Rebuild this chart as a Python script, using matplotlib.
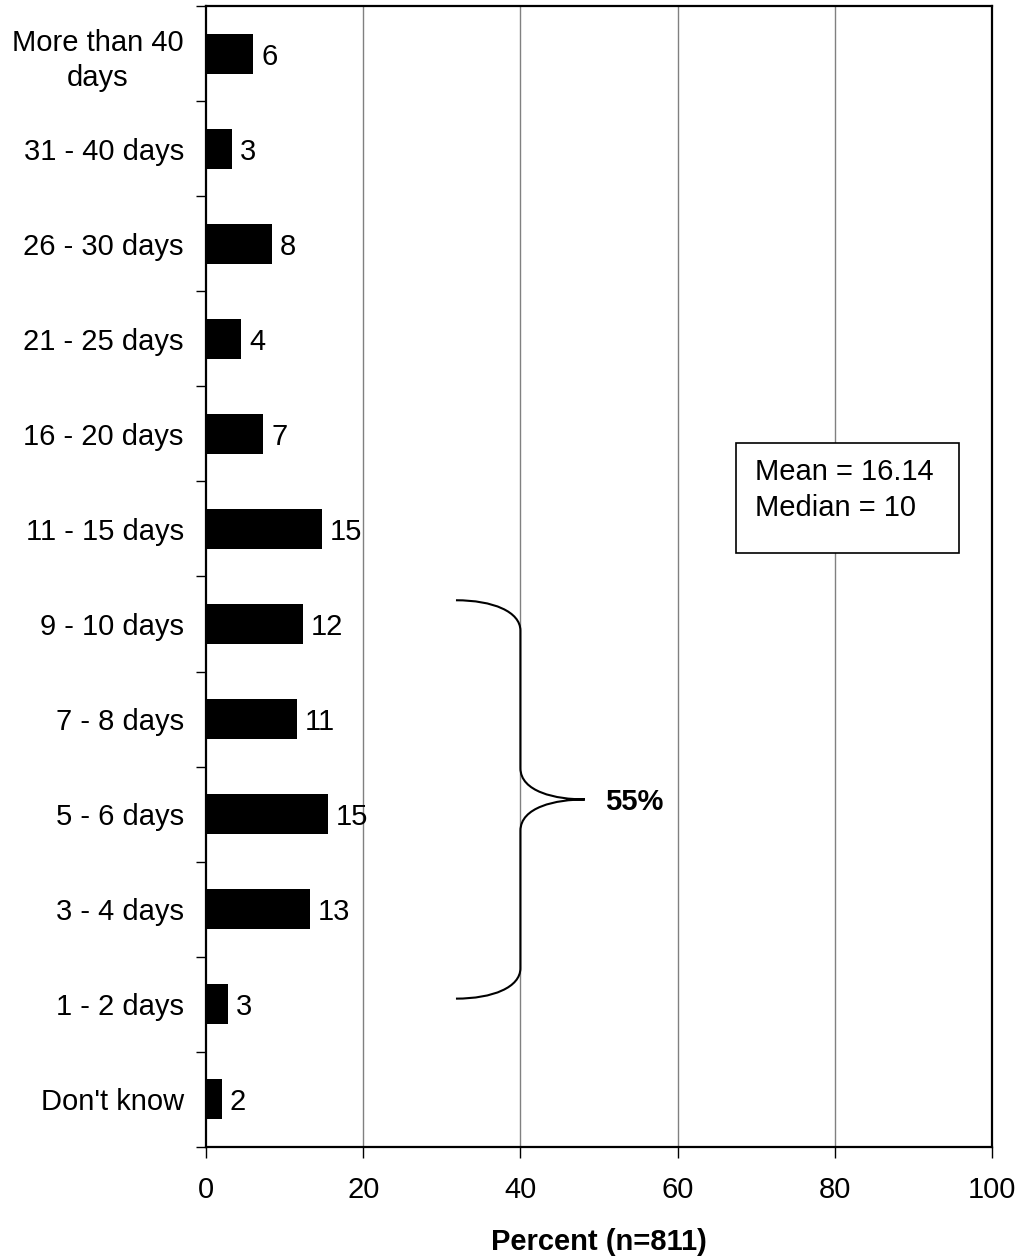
import numpy as np
import matplotlib.pyplot as plt
from matplotlib.path import Path
from matplotlib.patches import PathPatch, Rectangle

plt.rcParams['font.family'] = ['Liberation Sans', 'DejaVu Sans']

# Data (bottom to top)
categories = ["Don't know", "1 - 2 days", "3 - 4 days", "5 - 6 days", "7 - 8 days",
              "9 - 10 days", "11 - 15 days", "16 - 20 days", "21 - 25 days",
              "26 - 30 days", "31 - 40 days", "More than 40\ndays"]
values = [2.0, 2.8, 13.2, 15.5, 11.6, 12.3, 14.8, 7.3, 4.5, 8.4, 3.3, 6.0]
labels = ["2", "3", "13", "15", "11", "12", "15", "7", "4", "8", "3", "6"]
x_ticks = [0, 20, 40, 60, 80, 100]
bracket_text = "55%"
stats_text = "Mean = 16.14\nMedian = 10"

FS = 21

fig = plt.figure(figsize=(10.21, 12.59), dpi=100)
ax = fig.add_axes([0.2018, 0.089, 0.7698, 0.9062])

y = np.arange(len(categories))
ax.barh(y, values, height=0.42, color="black", zorder=3)
for yi, v, lab in zip(y, values, labels):
    ax.text(v + 1.0, yi, lab, va="center_baseline", ha="left", fontsize=FS, zorder=4)

ax.set_xlim(0, 100)
ax.set_ylim(-0.5, len(categories) - 0.5)

# x axis
ax.set_xticks(x_ticks)
ax.set_xticklabels([str(t) for t in x_ticks], fontsize=FS)
ax.tick_params(axis="x", direction="out", length=8, width=1, pad=13)
for t in x_ticks[1:-1]:
    ax.axvline(t, color="#808080", lw=1, zorder=1)
ax.set_xlabel("Percent (n=811)", fontsize=FS, fontweight="bold", labelpad=17)

# y axis: ticks at boundaries, labels at centers
ax.set_yticks(np.arange(-0.5, len(categories), 1.0))
ax.set_yticklabels([])
ax.set_yticks(y, minor=True)
ax.set_yticklabels(categories, minor=True, fontsize=FS, ha="right",
                   multialignment="center", va="center_baseline", linespacing=1.35)
ax.tick_params(axis="y", which="major", direction="out", length=7, width=1)
ax.tick_params(axis="y", which="minor", length=0, pad=16)

for s in ax.spines.values():
    s.set_linewidth(1.6)

# bracket around 1-2 days .. 9-10 days
x0, xm, xt = 31.8, 40.0, 48.2
lo, hi = 1.06, 5.25
mid = (lo + hi) / 2
verts = [(x0, hi), (36.5, hi), (xm, hi - 0.12), (xm, hi - 0.32),
         (xm, mid + 0.33),
         (xm, mid + 0.08), (44.5, mid), (xt, mid),
         (44.5, mid), (xm, mid - 0.08), (xm, mid - 0.33),
         (xm, lo + 0.32),
         (xm, lo + 0.12), (36.5, lo), (x0, lo)]
codes = [Path.MOVETO, Path.CURVE4, Path.CURVE4, Path.CURVE4,
         Path.LINETO,
         Path.CURVE4, Path.CURVE4, Path.CURVE4,
         Path.CURVE4, Path.CURVE4, Path.CURVE4,
         Path.LINETO,
         Path.CURVE4, Path.CURVE4, Path.CURVE4]
ax.add_patch(PathPatch(Path(verts, codes), facecolor="none", edgecolor="black",
                       lw=1.5, zorder=3))
ax.text(54.5, mid, bracket_text, ha="center", va="center_baseline", fontsize=FS,
        fontweight="bold", zorder=4)

# stats box
ax.add_patch(Rectangle((67.4, 5.75), 28.4, 1.155, facecolor="white",
                       edgecolor="black", lw=1.2, zorder=3))
ax.text(69.8, 6.75, stats_text, ha="left", va="top", fontsize=FS,
        linespacing=1.4, zorder=4)

fig.savefig("out.png", dpi=100)
